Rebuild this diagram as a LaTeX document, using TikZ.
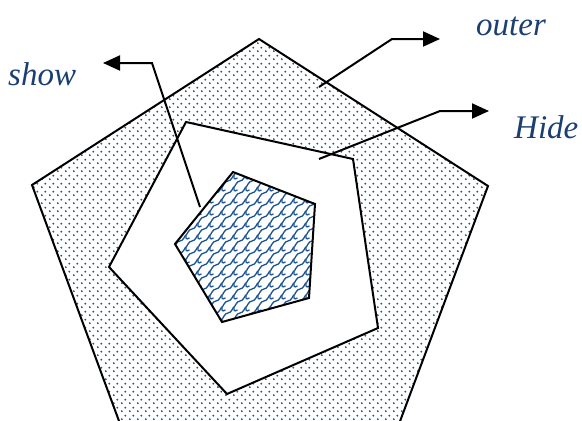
\documentclass[tikz,border=0pt]{standalone}
\usepackage{fontspec}
\setmainfont{Liberation Serif}
\usetikzlibrary{patterns.meta,arrows.meta}
\definecolor{dotblue}{HTML}{1F5594}
\definecolor{txtblue}{HTML}{1B3F70}
\tikzdeclarepattern{
  name=dotgrid,
  type=uncolored,
  bounding box={(0pt,0pt) and (8pt,8pt)},
  tile size={(8pt,8pt)},
  code={\fill (2pt,2pt) circle (1.15pt); \fill (6pt,6pt) circle (1.15pt);}
}
\tikzdeclarepattern{
  name=fabric,
  type=uncolored,
  bounding box={(-1pt,-1pt) and (13pt,13pt)},
  tile size={(12pt,12pt)},
  code={\draw[line width=1.3pt] (0pt,0pt) .. controls (3.5pt,0pt) and (5pt,6pt) .. (6pt,6pt) .. controls (7pt,6pt) and (8.5pt,12pt) .. (12pt,12pt);
         \draw[line width=1.3pt] (6pt,6pt) -- (6pt,3pt) .. controls (7pt,1.8pt) .. (9.5pt,3pt);}
}
\tikzset{
  edge/.style={line width=2pt, line join=miter},
  pointer/.style={line width=2pt, -{Triangle[length=17pt,width=15pt]}},
  lbl/.style={font=\itshape\fontsize{33}{38}\selectfont, text=txtblue, inner sep=0pt, anchor=base west}
}
\begin{document}
\begin{tikzpicture}[x=1pt,y=-1pt]
\useasboundingbox (0,0) rectangle (582,421);
\clip (0,0) rectangle (582,421);
% outer pentagon
\coordinate (o1) at (259,39);
\coordinate (o2) at (488,186);
\coordinate (o3) at (393,440);
\coordinate (o4) at (126,440);
\coordinate (o5) at (32,185);
% middle pentagon
\coordinate (m1) at (186,122);
\coordinate (m2) at (353,159);
\coordinate (m3) at (378,328);
\coordinate (m4) at (227,394);
\coordinate (m5) at (109,267);
% inner pentagon
\coordinate (i1) at (233,172);
\coordinate (i2) at (315,204);
\coordinate (i3) at (309,298);
\coordinate (i4) at (222,322);
\coordinate (i5) at (175,244);

\fill[pattern=dotgrid, pattern color=dotblue] (o1) -- (o2) -- (o3) -- (o4) -- (o5) -- cycle;
\draw[edge] (o1) -- (o2) -- (o3) -- (o4) -- (o5) -- cycle;
\fill[white] (m1) -- (m2) -- (m3) -- (m4) -- (m5) -- cycle;
\draw[edge] (m1) -- (m2) -- (m3) -- (m4) -- (m5) -- cycle;
\fill[pattern=fabric, pattern color=dotblue] (i1) -- (i2) -- (i3) -- (i4) -- (i5) -- cycle;
\draw[edge] (i1) -- (i2) -- (i3) -- (i4) -- (i5) -- cycle;

% labels
\node[lbl] (outer) at (476,35) {outer};
\node[lbl] (hide) at (514,138) {Hide};
\node[lbl] (show) at (8,85) {show};

% pointers
\coordinate (oa) at (319,87);
\coordinate (ob) at (392,39);
\coordinate (oc) at (440,39);
\draw[pointer] (oa) -- (ob) -- (oc);
\coordinate (ha) at (319,159);
\coordinate (hb) at (440,111);
\coordinate (hc) at (489,111);
\draw[pointer] (ha) -- (hb) -- (hc);
\coordinate (sa) at (200,207);
\coordinate (sb) at (152,63);
\coordinate (sc) at (103,63);
\draw[pointer] (sa) -- (sb) -- (sc);
\end{tikzpicture}
\end{document}
